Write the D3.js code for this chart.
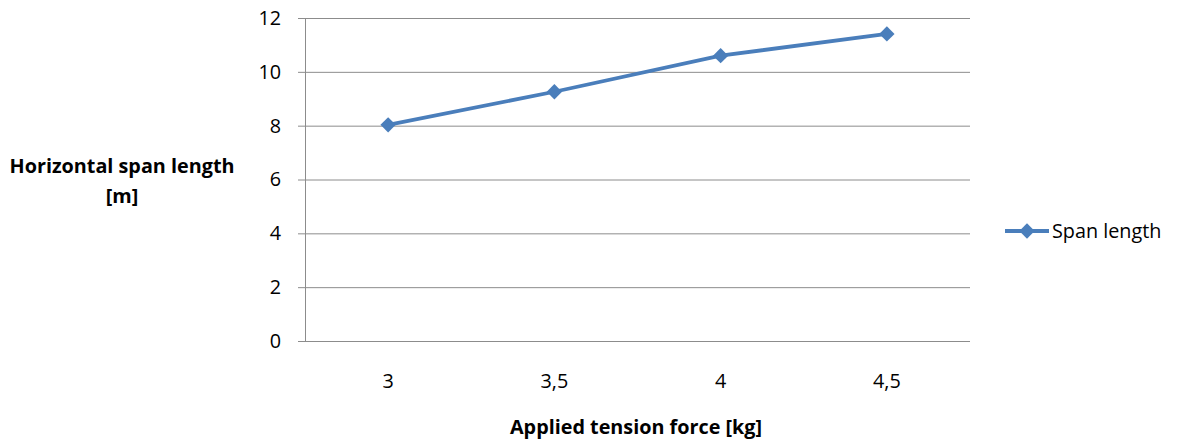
<!DOCTYPE html>
<html>
<head>
<meta charset="utf-8">
<script src="https://cdn.jsdelivr.net/npm/d3@7"></script>
<style>
  body { margin: 0; background: #fff; }
  text { font-family: "Open Sans", Lato, sans-serif; fill: #000; }
</style>
</head>
<body>
<div id="chart"></div>
<script>
// data
const categories = ["3", "3,5", "4", "4,5"];
const spanLength = [8.03, 9.26, 10.6, 11.41];
const yTicks = [0, 2, 4, 6, 8, 10, 12];
const seriesName = "Span length";

const width = 1179,
  height = 439;
const plot = { left: 305, right: 970, top: 18, bottom: 341 };
const blue = "#4a7ebb";
const fontSize = "19.8px";

const svg = d3
  .select("#chart")
  .append("svg")
  .attr("width", width)
  .attr("height", height);

const x = d3
  .scaleBand()
  .domain(categories)
  .range([plot.left, plot.right]);

const y = d3.scaleLinear().domain([0, 12]).range([plot.bottom, plot.top]);

// gridlines
svg
  .append("g")
  .selectAll("line")
  .data(yTicks)
  .join("line")
  .attr("x1", plot.left - 7)
  .attr("x2", plot.right)
  .attr("y1", (d) => y(d) + 0.5)
  .attr("y2", (d) => y(d) + 0.5)
  .attr("stroke", "#8c8c8c")
  .attr("stroke-width", 1);

// y axis line
svg
  .append("line")
  .attr("x1", plot.left + 0.5)
  .attr("x2", plot.left + 0.5)
  .attr("y1", plot.top)
  .attr("y2", plot.bottom)
  .attr("stroke", "#8c8c8c");

// y tick labels
svg
  .append("g")
  .selectAll("text")
  .data(yTicks)
  .join("text")
  .attr("x", plot.left - 24)
  .attr("y", (d) => y(d))
  .attr("dy", "0.35em")
  .attr("text-anchor", "end")
  .style("font-size", fontSize)
  .text((d) => d);

// x tick labels
svg
  .append("g")
  .selectAll("text")
  .data(categories)
  .join("text")
  .attr("x", (d) => x(d) + x.bandwidth() / 2)
  .attr("y", 381)
  .attr("dy", "0.35em")
  .attr("text-anchor", "middle")
  .style("font-size", fontSize)
  .text((d) => d);

// axis titles
svg
  .append("text")
  .attr("x", 636)
  .attr("y", 427)
  .attr("dy", "0.35em")
  .attr("text-anchor", "middle")
  .style("font-size", fontSize)
  .style("font-weight", "bold")
  .text("Applied tension force [kg]");

const yTitle = svg
  .append("text")
  .attr("text-anchor", "middle")
  .style("font-size", fontSize)
  .style("font-weight", "bold");
yTitle.append("tspan").attr("x", 122).attr("y", 173).text("Horizontal span length");
yTitle.append("tspan").attr("x", 122).attr("y", 203).text("[m]");

// series
const pts = categories.map((c, i) => ({ c, v: spanLength[i] }));
const diamond = d3.symbol().type(d3.symbolDiamond2).size(150);

svg
  .append("path")
  .datum(pts)
  .attr("fill", "none")
  .attr("stroke", blue)
  .attr("stroke-width", 3.8)
  .attr("stroke-linejoin", "round")
  .attr("d", d3.line().x((d) => x(d.c) + x.bandwidth() / 2).y((d) => y(d.v)));

svg
  .append("g")
  .selectAll("path")
  .data(pts)
  .join("path")
  .attr("transform", (d) => `translate(${x(d.c) + x.bandwidth() / 2},${y(d.v)})`)
  .attr("d", diamond)
  .attr("fill", blue);

// legend
const legend = svg.append("g").attr("transform", "translate(1005,231)");
legend
  .append("line")
  .attr("x1", 0)
  .attr("x2", 44)
  .attr("stroke", blue)
  .attr("stroke-width", 3.8);
legend
  .append("path")
  .attr("transform", "translate(22,0)")
  .attr("d", diamond)
  .attr("fill", blue);
legend
  .append("text")
  .attr("x", 47)
  .attr("dy", "0.35em")
  .style("font-size", fontSize)
  .text(seriesName);
</script>
</body>
</html>
